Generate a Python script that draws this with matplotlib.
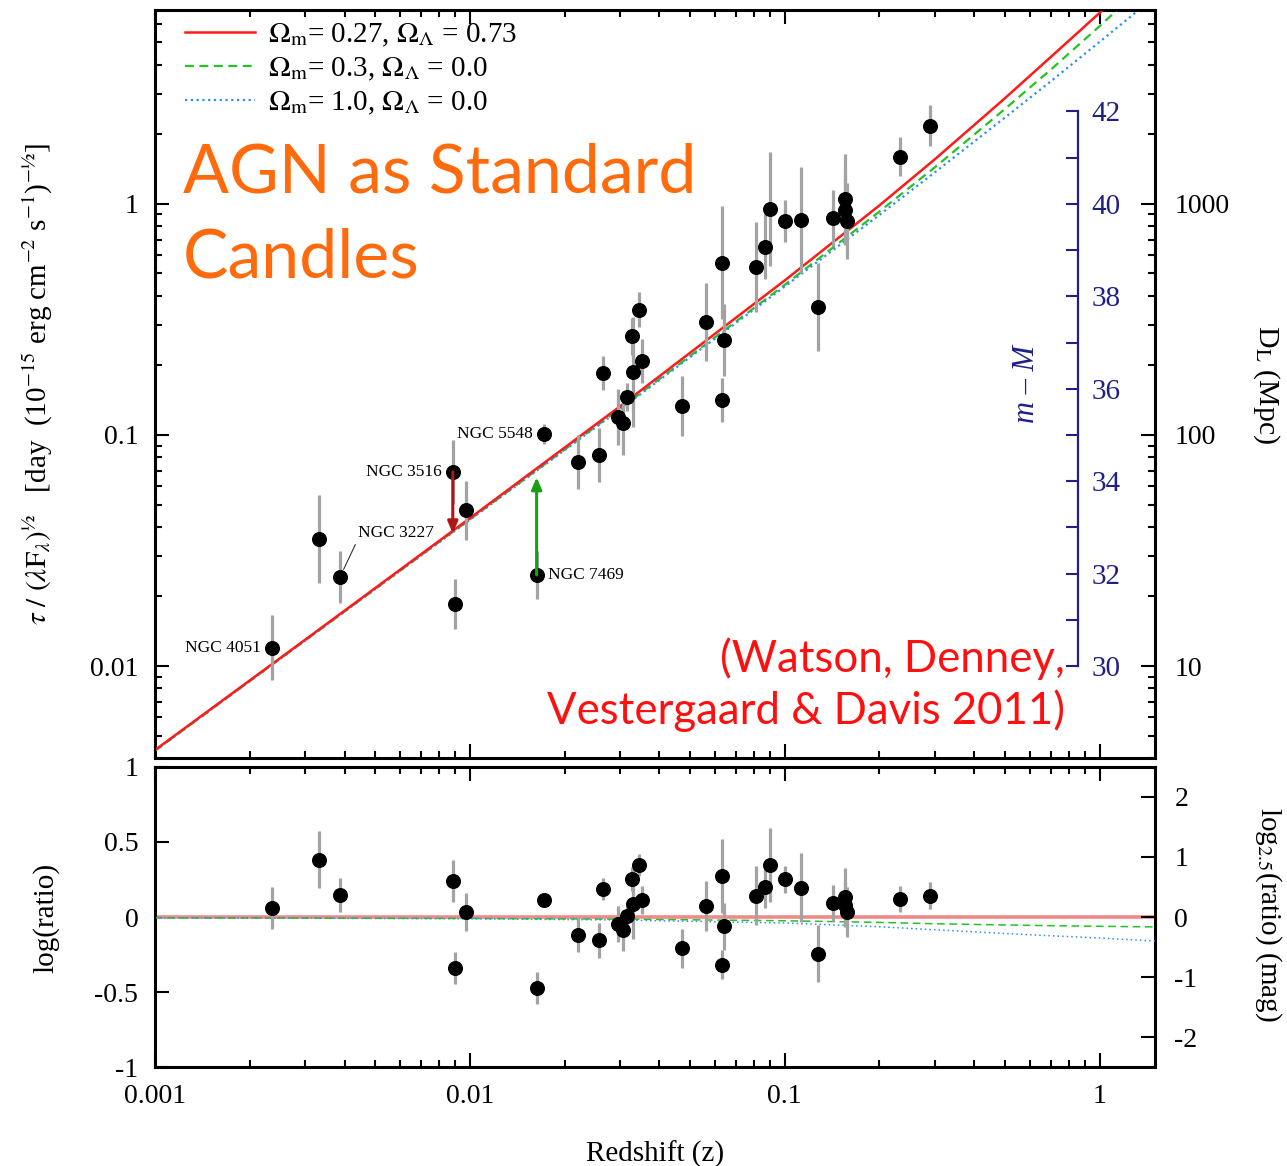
import numpy as np
import matplotlib
matplotlib.use('Agg')
from matplotlib import pyplot as plt
from matplotlib.ticker import FixedLocator, NullFormatter, FuncFormatter, LogLocator

plt.rcParams['font.family'] = ['Liberation Serif', 'DejaVu Serif']
plt.rcParams['mathtext.fontset'] = 'stix'
plt.rcParams['axes.unicode_minus'] = False

# AGN sample: redshift, tau/(lambda F)^1/2, log(ratio) to the model, error (dex)
z = [0.00235, 0.00332, 0.00387, 0.00883, 0.00896, 0.00971, 0.0163, 0.0172,
     0.0220, 0.0257, 0.0264, 0.0295, 0.0306, 0.0315, 0.0327, 0.0329, 0.0344,
     0.0352, 0.0471, 0.0561, 0.0631, 0.0640, 0.0631, 0.0809, 0.0865, 0.0896,
     0.100, 0.1124, 0.128, 0.142, 0.155, 0.155, 0.158, 0.233, 0.290]
tau = [0.0120, 0.0355, 0.0243, 0.0692, 0.01855, 0.0473, 0.0248, 0.101,
       0.0764, 0.0819, 0.1855, 0.1197, 0.1127, 0.146, 0.268, 0.1874, 0.348,
       0.209, 0.1336, 0.308, 0.556, 0.258, 0.1418, 0.533, 0.652, 0.951,
       0.844, 0.853, 0.358, 0.870, 1.05, 0.942, 0.844, 1.60, 2.18]
resid = [0.06, 0.38, 0.145, 0.243, -0.339, 0.032, -0.472, 0.115,
         -0.119, -0.155, 0.188, -0.047, -0.087, 0.01, 0.253, 0.09, 0.345,
         0.115, -0.208, 0.075, 0.272, -0.063, -0.317, 0.143, 0.199, 0.348,
         0.25, 0.195, -0.245, 0.095, 0.132, 0.083, 0.032, 0.119, 0.143]
err = [0.14, 0.19, 0.113, 0.14, 0.108, 0.128, 0.105, 0.043,
       0.117, 0.117, 0.073, 0.12, 0.137, 0.06, 0.08, 0.238, 0.075,
       0.094, 0.13, 0.167, 0.245, 0.155, 0.095, 0.195, 0.14, 0.246,
       0.092, 0.23, 0.19, 0.12, 0.195, 0.15, 0.165, 0.085, 0.09]

# labelled objects: name, index into the arrays above
names = {'NGC 4051': 0, 'NGC 3227': 2, 'NGC 3516': 3, 'NGC 7469': 6, 'NGC 5548': 7}
# arrows from NGC 3516 and NGC 7469 to the model line
arrow_idx = [3, 6]
arrow_tip = [0.0375, 0.0656]
arrow_col = ['#b01515', '#15a015']

# model curves
z_mod = [0.001, 0.003, 0.01, 0.03, 0.1, 0.2, 0.3, 0.5, 0.7, 1.0, 1.5]
mod_lcdm = [0.00433, 0.0130, 0.0436, 0.133, 0.466, 0.985, 1.56, 2.86, 4.32, 6.7, 11.1]
mod_open = [0.00430, 0.0129, 0.0431, 0.130, 0.446, 0.927, 1.44, 2.57, 3.81, 5.87, 9.80]
mod_eds = [0.00430, 0.0129, 0.0429, 0.129, 0.4385, 0.896, 1.37, 2.36, 3.39, 5.02, 7.87]
res_open = [-0.005, -0.007, -0.01, -0.014, -0.025, -0.036, -0.045, -0.053, -0.058, -0.062, -0.066]
res_eds = [-0.005, -0.008, -0.012, -0.02, -0.04, -0.065, -0.085, -0.11, -0.125, -0.14, -0.16]

red, green, blue = '#ff1a1a', '#22c322', '#2e8ff0'
navy = '#1f1f86'
ylo, yhi = 0.004, 6.9

fig = plt.figure(figsize=(12.87, 11.66), dpi=100)
ax1 = fig.add_axes([0.1204, 0.3499, 0.777, 0.6415])
ax2 = fig.add_axes([0.1204, 0.0849, 0.777, 0.2573])

tau = np.array(tau)
err = np.array(err)
yerr = [tau - tau * 10 ** -err, tau * 10 ** err - tau]

ax1.plot(z_mod, mod_lcdm, color=red, lw=1.8, label=r'$\Omega_{\rm m}$= 0.27, $\Omega_\Lambda$ = 0.73', zorder=4)
ax1.plot(z_mod, mod_open, color=green, lw=1.6, ls=(0, (4, 2.5)), label=r'$\Omega_{\rm m}$= 0.3, $\Omega_\Lambda$ = 0.0', zorder=3)
ax1.plot(z_mod, mod_eds, color=blue, lw=1.6, ls=(0, (1, 1.6)), label=r'$\Omega_{\rm m}$= 1.0, $\Omega_\Lambda$ = 0.0', zorder=3)
ax1.errorbar(z, tau, yerr=yerr, fmt='o', color='black', ms=9.8, ecolor='#a3a3a3',
             elinewidth=2.3, capsize=0, zorder=5)

for name, i in names.items():
    if name == 'NGC 3227':
        ax1.annotate(name, xy=(z[i], tau[i]), xytext=(13, 32), textcoords='offset points',
                     ha='left', va='center', fontsize=12.5,
                     arrowprops=dict(arrowstyle='-', lw=0.8, color='#333333',
                                     relpos=(0.0, 0.1), shrinkA=1, shrinkB=6))
    elif name == 'NGC 7469':
        ax1.annotate(name, xy=(z[i], tau[i]), xytext=(8, 0), textcoords='offset points',
                     ha='left', va='center', fontsize=12.5)
    else:
        ax1.annotate(name, xy=(z[i], tau[i]), xytext=(-8, 0), textcoords='offset points',
                     ha='right', va='center', fontsize=12.5)

for i, tip, c in zip(arrow_idx, arrow_tip, arrow_col):
    ax1.annotate('', xy=(z[i], tip), xytext=(z[i], tau[i]),
                 arrowprops=dict(arrowstyle='-|>,head_length=0.7,head_width=0.3', color=c,
                                 lw=2.2, shrinkA=0, shrinkB=0), zorder=6)

ax1.set_xscale('log')
ax1.set_yscale('log')
ax1.set_xlim(0.001, 1.5)
ax1.set_ylim(ylo, yhi)
ax1.yaxis.set_major_formatter(FuncFormatter(lambda v, p: f'{v:g}'))
ax1.yaxis.set_minor_formatter(NullFormatter())
ax1.xaxis.set_major_formatter(NullFormatter())
ax1.xaxis.set_minor_formatter(NullFormatter())
ax1.tick_params(which='both', direction='in', top=True, right=False, width=1.5)
ax1.tick_params(which='major', length=10, labelsize=20, pad=12)
ax1.tick_params(which='minor', length=5)
for s in ax1.spines.values():
    s.set_linewidth(2.2)

leg = ax1.legend(loc='upper left', bbox_to_anchor=(0.027, 0.988), frameon=False, fontsize=21,
                 handlelength=2.4, handletextpad=0.45, labelspacing=0.22, borderpad=0.1,
                 borderaxespad=0)

# D_L axis on the right (Mpc)
axd = ax1.twinx()
axd.set_yscale('log')
axd.set_ylim(1000 * ylo, 1000 * yhi)
axd.yaxis.set_major_formatter(FuncFormatter(lambda v, p: f'{v:g}'))
axd.yaxis.set_minor_formatter(NullFormatter())
axd.tick_params(which='both', direction='in', width=1.5)
axd.tick_params(which='major', length=10, labelsize=20, pad=14)
axd.tick_params(which='minor', length=5)
ax1.text(1.111, 0.5, r'D$_{\rm L}$ (Mpc)', transform=ax1.transAxes, rotation=270,
         ha='center', va='center', fontsize=21.5)

# distance modulus axis inside the panel
axm = ax1.twinx()
axm.set_ylim(5 * np.log10(1000 * ylo) + 25, 5 * np.log10(1000 * yhi) + 25)
for s in ['left', 'top', 'bottom']:
    axm.spines[s].set_visible(False)
axm.spines['right'].set_position(('axes', 0.923))
axm.spines['right'].set_bounds(30, 42)
axm.spines['right'].set_color(navy)
axm.spines['right'].set_linewidth(1.6)
axm.yaxis.set_major_locator(FixedLocator(range(30, 43, 2)))
axm.yaxis.set_minor_locator(FixedLocator(range(31, 42, 2)))
axm.tick_params(which='both', direction='in', colors=navy, length=9, width=1.5,
                labelsize=21, pad=10)
ax1.text(0.872, 0.5, 'm – M', transform=ax1.transAxes, rotation=90, ha='center',
         va='center', fontsize=22, style='italic', color=navy)

ax1.text(-0.117, 0.5,
         r'$\tau\ /\ (\lambda \mathrm{F}_\lambda)^{½}$   [day  (10$^{-15}$ erg cm$^{-2}$ s$^{-1}$)$^{-½}$]',
         transform=ax1.transAxes, rotation=90, ha='center', va='center', fontsize=21)

fig.text(0.1422, 0.8774, 'AGN as Standard\nCandles', fontsize=49, color='#ff6a0d',
         family=['Lato', 'DejaVu Sans'], ha='left', va='top', linespacing=1.45)
fig.text(0.8275, 0.413, '(Watson, Denney,\nVestergaard & Davis 2011)', fontsize=31.5,
         color='#ff1010', family=['Lato', 'DejaVu Sans'], ha='right', va='center',
         linespacing=1.28)

# residual panel
ax2.axhline(0, color='#f08a8a', lw=2.6, zorder=2)
ax2.plot(z_mod, res_open, color=green, lw=1.1, ls=(0, (5, 3)), zorder=3)
ax2.plot(z_mod, res_eds, color=blue, lw=1.1, ls=(0, (1, 2)), zorder=3)
ax2.errorbar(z, resid, yerr=err, fmt='o', color='black', ms=9.8, ecolor='#a3a3a3',
             elinewidth=2.3, capsize=0, zorder=5)
ax2.set_xscale('log')
ax2.set_xlim(0.001, 1.5)
ax2.set_ylim(-1, 1)
ax2.set_yticks([-1, -0.5, 0, 0.5, 1])
ax2.set_yticklabels(['-1', '-0.5', '0', '0.5', '1'])
ax2.xaxis.set_major_locator(LogLocator(base=10, numticks=10))
ax2.xaxis.set_major_formatter(FuncFormatter(lambda v, p: f'{v:g}'))
ax2.xaxis.set_minor_formatter(NullFormatter())
ax2.tick_params(which='both', direction='in', top=True, right=False, width=1.5)
ax2.tick_params(which='major', length=10, labelsize=20, pad=12)
ax2.tick_params(which='minor', length=5)
for s in ax2.spines.values():
    s.set_linewidth(2.2)
ax2.set_xlabel('Redshift (z)', fontsize=21)
ax2.xaxis.set_label_coords(0.5, -0.245)
ax2.text(-0.109, 0.497, 'log(ratio)', transform=ax2.transAxes, rotation=90,
         ha='center', va='center', fontsize=21)

axr = ax2.twinx()
axr.set_ylim(-2.5, 2.5)
axr.set_yticks([-2, -1, 0, 1, 2])
axr.set_yticklabels(['-2', '-1', '0', '1', '2'])
axr.tick_params(direction='in', length=10, width=1.5, labelsize=20, pad=14)
ax2.text(1.113, 0.507, r'log$_{2.5}$(ratio) (mag)', transform=ax2.transAxes, rotation=270,
         ha='center', va='center', fontsize=21)

fig.savefig('out.png', dpi=100)
